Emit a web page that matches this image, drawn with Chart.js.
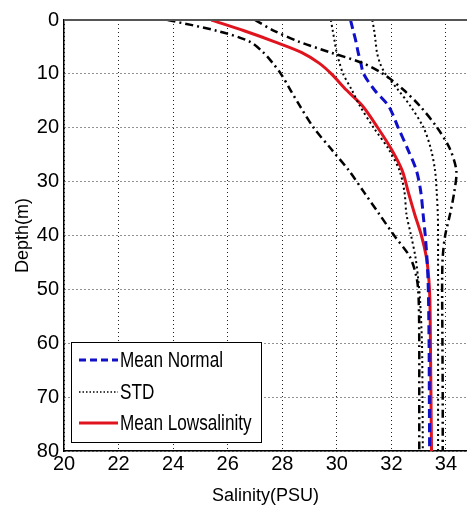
<!DOCTYPE html>
<html>
<head>
<meta charset="utf-8">
<script src="https://cdn.jsdelivr.net/npm/chart.js@4.4.0/dist/chart.umd.min.js"></script>
<style>
  html, body { margin: 0; padding: 0; background: #fff; }
  canvas { display: block; }
</style>
</head>
<body>
<canvas id="profile_chart" width="467" height="511"></canvas>
<script>
// depth levels (m) and salinity (PSU)
const depth = [0, 2, 4, 6, 8, 10, 13, 16, 20, 24, 28, 32, 36, 40, 44, 48, 52, 60, 70, 80];

const meanNormal = [30.5, 30.6, 30.7, 30.78, 30.88, 30.98, 31.38, 31.9, 32.25, 32.6, 32.92, 33.08, 33.16, 33.24, 33.3, 33.34, 33.36, 33.38, 33.39, 33.4];
const normalStdMinus = [29.78, 29.85, 29.92, 29.99, 30.1, 30.23, 30.55, 30.85, 31.35, 31.9, 32.3, 32.48, 32.55, 32.72, 32.88, 32.98, 33.05, 33.12, 33.14, 33.15];
const normalStdPlus = [31.3, 31.37, 31.42, 31.47, 31.58, 31.78, 32.25, 32.7, 33.18, 33.45, 33.6, 33.66, 33.7, 33.71, 33.71, 33.71, 33.71, 33.71, 33.71, 33.71];

const meanLow = [25.4, 26.6, 27.7, 28.7, 29.35, 29.8, 30.35, 30.95, 31.5, 32.0, 32.4, 32.62, 32.85, 33.1, 33.28, 33.37, 33.41, 33.43, 33.45, 33.47];
const lowStdMinus = [23.8, 25.6, 26.8, 27.3, 27.65, 27.95, 28.3, 28.65, 29.15, 29.8, 30.45, 31.0, 31.55, 32.1, 32.68, 32.93, 33.0, 33.02, 33.02, 33.02];
const lowStdPlus = [27.0, 27.7, 28.6, 29.75, 30.95, 31.7, 32.45, 33.05, 33.68, 34.15, 34.38, 34.3, 34.15, 33.97, 33.88, 33.86, 33.86, 33.87, 33.88, 33.88];

const xTicks = [20, 22, 24, 26, 28, 30, 32, 34];
const yTicks = [0, 10, 20, 30, 40, 50, 60, 70, 80];

const FONT = "'Liberation Sans', Arial, sans-serif";

const pts = (arr) => depth.map((d, i) => ({ x: arr[i], y: d }));

const line = (label, arr, color, width, dash) => ({
  label,
  data: pts(arr),
  showLine: true,
  borderColor: color,
  backgroundColor: color,
  borderWidth: width,
  borderDash: dash,
  pointRadius: 0,
  tension: 0.3,
  fill: false,
});

const legendItems = [
  { text: "Mean Normal", color: "#1010c8", width: 3, dash: [7, 4] },
  { text: "STD", color: "#000", width: 1.5, dash: [1.5, 2] },
  { text: "Mean Lowsalinity", color: "#e0141e", width: 3, dash: [] },
];

const framePlugin = {
  id: "frame",
  afterDatasetsDraw(chart) {
    const { ctx, chartArea: a } = chart;
    ctx.save();
    // top border
    ctx.strokeStyle = "#555";
    ctx.lineWidth = 2;
    ctx.beginPath();
    ctx.moveTo(a.left, a.top);
    ctx.lineTo(a.right, a.top);
    ctx.stroke();

    // legend box (inside the axes, lower left)
    const bx = 71, by = 342, bw = 190, bh = 100;
    ctx.fillStyle = "#fff";
    ctx.fillRect(bx, by, bw, bh);
    ctx.strokeStyle = "#000";
    ctx.lineWidth = 1;
    ctx.strokeRect(bx + 0.5, by + 0.5, bw, bh);

    const rows = [360, 392, 423];
    legendItems.forEach((it, i) => {
      ctx.strokeStyle = it.color;
      ctx.lineWidth = it.width;
      ctx.setLineDash(it.dash);
      ctx.beginPath();
      ctx.moveTo(79, rows[i]);
      ctx.lineTo(118, rows[i]);
      ctx.stroke();
      ctx.setLineDash([]);

      // narrow lettering like the original
      ctx.save();
      ctx.translate(120, rows[i]);
      ctx.scale(0.78, 1);
      ctx.font = "22px " + FONT;
      ctx.textBaseline = "middle";
      ctx.textAlign = "left";
      ctx.fillStyle = "#000";
      ctx.fillText(it.text, 0, 1);
      ctx.restore();
    });
    ctx.restore();
  },
};

const chart = new Chart(document.getElementById("profile_chart"), {
  type: "scatter",
  data: {
    datasets: [
      line("STD low -", lowStdMinus, "#000", 2.5, [8, 4, 2, 4]),
      line("STD low +", lowStdPlus, "#000", 2.5, [8, 4, 2, 4]),
      line("STD normal -", normalStdMinus, "#000", 2, [2, 3]),
      line("STD normal +", normalStdPlus, "#000", 2, [2, 3]),
      line("Mean Normal", meanNormal, "#1010c8", 3, [9, 5]),
      line("Mean Lowsalinity", meanLow, "#e0141e", 3, []),
    ],
  },
  options: {
    responsive: false,
    animation: false,
    layout: { padding: { top: 20, right: 0, left: 0, bottom: 0 } },
    plugins: {
      legend: { display: false },
      tooltip: { enabled: false },
    },
    scales: {
      x: {
        type: "linear",
        min: 20,
        max: 34.77,
        afterBuildTicks: (s) => { s.ticks = xTicks.map((v) => ({ value: v })); },
        afterFit: (s) => { s.height = 60; },
        ticks: {
          color: "#000",
          padding: 1,
          font: { family: FONT, size: 20 },
          maxRotation: 0,
        },
        grid: { color: "#222", lineWidth: 1, drawTicks: false },
        border: { display: true, color: "#000", width: 1.5, dash: [1, 3] },
        title: {
          display: true,
          text: "Salinity(PSU)",
          color: "#000",
          padding: { top: 4 },
          font: { family: FONT, size: 18 },
        },
      },
      y: {
        type: "linear",
        reverse: true,
        min: 0,
        max: 80,
        afterBuildTicks: (s) => { s.ticks = yTicks.map((v) => ({ value: v })); },
        afterFit: (s) => { s.width = 64; },
        ticks: {
          color: "#000",
          padding: 5,
          font: { family: FONT, size: 20 },
        },
        grid: { color: "#222", lineWidth: 1, drawTicks: false },
        border: { display: true, color: "#000", width: 1.5, dash: [1, 3] },
        title: {
          display: true,
          text: "Depth(m)",
          color: "#000",
          padding: { top: 12, bottom: 0 },
          font: { family: FONT, size: 18 },
        },
      },
    },
  },
  plugins: [framePlugin],
});
</script>
</body>
</html>
